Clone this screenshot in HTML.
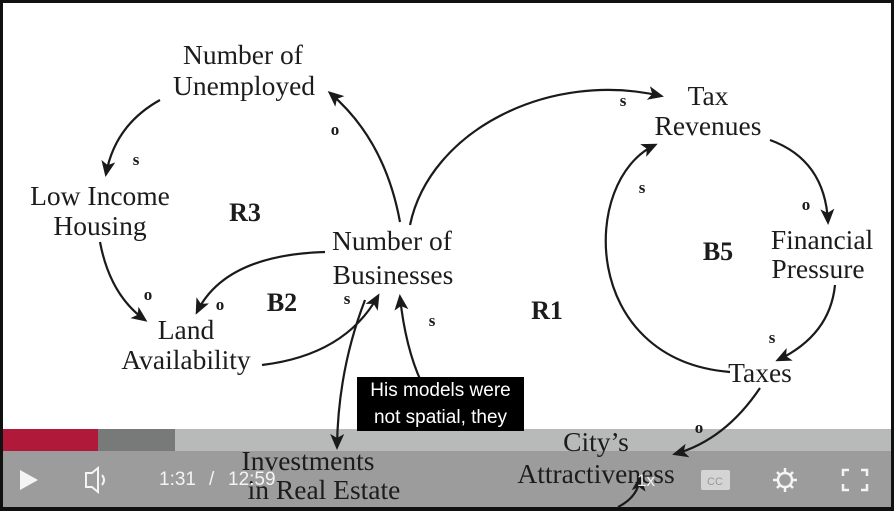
<!DOCTYPE html>
<html><head><style>
html,body{margin:0;padding:0;background:#111;}
#f{position:relative;width:894px;height:511px;overflow:hidden;background:#111;}
#c{position:absolute;left:3px;top:3px;width:888px;height:504px;background:#fff;}
svg{position:absolute;left:0;top:0;}
.t{font-family:"Liberation Serif",serif;font-size:27.5px;fill:#1c1c1c;text-anchor:middle;}
.b{font-family:"Liberation Serif",serif;font-size:26px;font-weight:bold;fill:#1c1c1c;text-anchor:middle;}
.l{font-family:"Liberation Serif",serif;font-size:17px;font-weight:bold;fill:#1c1c1c;text-anchor:middle;}
.a{fill:none;stroke:#1a1a1a;stroke-width:2.2;marker-end:url(#m);}
#sub{position:absolute;left:357px;top:377px;width:167px;background:#000;color:#fff;font-family:"Liberation Sans",sans-serif;font-size:19px;line-height:27px;text-align:center;}
#pb{position:absolute;left:3px;top:429px;width:888px;height:22px;background:#b8bab9;}
#pr{position:absolute;left:3px;top:429px;width:95px;height:22px;background:#b0193a;}
#pd{position:absolute;left:98px;top:429px;width:77px;height:22px;background:#787a79;}
#cb{position:absolute;left:3px;top:451px;width:888px;height:56px;background:#9c9c9c;}
.ct{position:absolute;color:#f4f4f4;font-family:"Liberation Sans",sans-serif;font-size:19px;top:469px;}
</style></head><body><div id="f"><div id="c"></div>
<div id="pb"></div><div id="pr"></div><div id="pd"></div>
<div id="cb"></div>
<svg width="894" height="511" viewBox="0 0 894 511">
<defs><marker id="m" markerWidth="16" markerHeight="14" refX="13" refY="7" orient="auto" markerUnits="userSpaceOnUse"><path d="M0,0 L16,7 L0,14 L4,7 Z" fill="#1a1a1a"/></marker></defs>
<text class="t" x="243" y="64">Number of</text><text class="t" x="244" y="95">Unemployed</text>
<text class="t" x="100" y="205">Low Income</text><text class="t" x="100" y="235">Housing</text>
<text class="b" x="245" y="221">R3</text>
<text class="t" x="392" y="250">Number of</text><text class="t" x="393" y="284">Businesses</text>
<text class="b" x="282" y="311">B2</text><text class="b" x="547" y="319">R1</text><text class="b" x="718" y="260">B5</text>
<text class="t" x="708" y="105">Tax</text><text class="t" x="708" y="135">Revenues</text>
<text class="t" x="822" y="249">Financial</text><text class="t" x="818" y="278">Pressure</text>
<text class="t" x="760" y="382">Taxes</text>
<text class="t" x="186" y="339">Land</text><text class="t" x="186" y="369">Availability</text>
<text class="t" x="308" y="470">Investments</text><text class="t" x="324" y="499">in Real Estate</text>
<text class="t" x="596" y="451">City’s</text><text class="t" x="596" y="483">Attractiveness</text>
<text class="l" x="335" y="135">o</text><text class="l" x="136" y="165">s</text><text class="l" x="148" y="300">o</text>
<text class="l" x="220" y="310">o</text><text class="l" x="347" y="304">s</text><text class="l" x="432" y="326">s</text>
<text class="l" x="623" y="106">s</text><text class="l" x="806" y="210">o</text><text class="l" x="772" y="343">s</text>
<text class="l" x="642" y="193">s</text><text class="l" x="699" y="433">o</text>
<path class="a" d="M400,222 Q385,140 330,93"/>
<path class="a" d="M160,100 Q115,125 106,174"/>
<path class="a" d="M100,242 Q110,295 145,320"/>
<path class="a" d="M325,252 Q225,255 197,312"/>
<path class="a" d="M262,365 Q345,355 378,296"/>
<path class="a" d="M365,300 Q338,370 337,447"/>
<path class="a" d="M455,428 Q410,390 400,297"/>
<path class="a" d="M410,225 C430,130 550,70 661,96"/>
<path class="a" d="M770,140 Q825,160 828,222"/>
<path class="a" d="M835,285 Q830,335 778,360"/>
<path class="a" d="M730,372 C580,360 580,180 655,145"/>
<path class="a" d="M760,388 Q725,440 675,454"/>
<path class="a" d="M618,507 Q638,497 640,478"/>
</svg>
<div id="sub">His models were<br>not spatial, they</div>
<svg width="894" height="511">
<path d="M20,470 L38,480 L20,490 Z" fill="#f4f4f4"/>
<path d="M86,473 L92,473 L98,468 L98,492 L92,487 L86,487 Z" fill="none" stroke="#f4f4f4" stroke-width="2"/>
<path d="M102,475 Q106,480 102,485" fill="none" stroke="#f4f4f4" stroke-width="2"/>
<rect x="701" y="470" width="29" height="20" rx="2" fill="#d4d4d4"/>
<text x="715" y="485" font-family="Liberation Sans" font-size="11" fill="#999" text-anchor="middle">CC</text>
<circle cx="785" cy="480" r="7" fill="none" stroke="#f4f4f4" stroke-width="2.5"/>
<path d="M785,468v4M785,488v4M773,480h4M793,480h4M777,472l3,3M790,485l3,3M777,488l3,-3M790,475l3,-3" stroke="#f4f4f4" stroke-width="2.5"/>
<path d="M843,476v-6h6M861,470h6v6M867,484v6h-6M849,490h-6v-6" fill="none" stroke="#f4f4f4" stroke-width="2.5"/>
</svg>
<div class="ct" style="left:159px">1:31</div><div class="ct" style="left:209px">/</div><div class="ct" style="left:228px">12:59</div>
<div class="ct" style="left:637px;font-size:17px;top:471px">1x</div>
</div></body></html>
